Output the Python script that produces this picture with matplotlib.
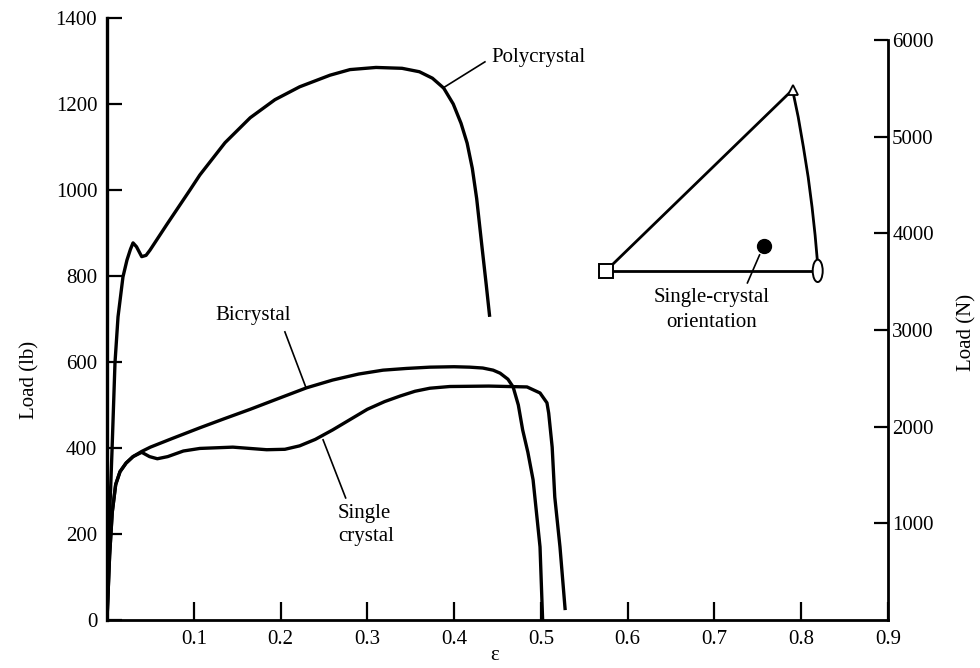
import matplotlib
matplotlib.use("Agg")
import matplotlib.pyplot as plt
from matplotlib.patches import Ellipse

plt.rcParams['font.family'] = ['Liberation Serif', 'DejaVu Serif']
FS = 15

# ---------------- data (strain, load in lb) ----------------
poly_x = [0, 0.0023, 0.0058, 0.0092, 0.0127, 0.0184, 0.023, 0.027, 0.030, 0.034,
          0.040, 0.045, 0.0495, 0.069, 0.0956, 0.107, 0.136, 0.165, 0.1935, 0.222,
          0.257, 0.280, 0.310, 0.340, 0.360, 0.375, 0.388, 0.399, 0.408, 0.415,
          0.421, 0.426, 0.432, 0.437, 0.441]
poly_lb = [0, 202, 395, 598, 705, 798, 837, 862, 877, 868,
           845, 848, 860, 920, 1000, 1035, 1110, 1168, 1210, 1240,
           1267, 1280, 1285, 1283, 1275, 1260, 1237, 1200, 1155, 1109,
           1050, 980, 870, 780, 705]

bi_x = [0, 0.003, 0.006, 0.010, 0.015, 0.022, 0.030, 0.040, 0.050, 0.075, 0.107,
        0.135, 0.165, 0.200, 0.230, 0.260, 0.290, 0.318, 0.345, 0.372, 0.400,
        0.418, 0.433, 0.445, 0.453, 0.462, 0.468, 0.474, 0.479, 0.485, 0.491,
        0.499, 0.502]
bi_lb = [0, 150, 250, 315, 345, 365, 380, 392, 402, 422, 447,
         468, 490, 517, 540, 558, 572, 581, 585, 588, 589,
         588, 586, 581, 574, 560, 542, 500, 442, 390, 326,
         170, 0]

single_x = [0, 0.003, 0.006, 0.010, 0.015, 0.022, 0.030, 0.040, 0.049, 0.058, 0.070,
            0.088, 0.107, 0.145, 0.184, 0.205, 0.222, 0.240, 0.260, 0.280, 0.300,
            0.320, 0.338, 0.355, 0.372, 0.395, 0.440, 0.484, 0.499, 0.507, 0.509,
            0.513, 0.516, 0.522, 0.528]
single_lb = [0, 150, 250, 315, 345, 365, 380, 390, 380, 375, 380,
             393, 399, 402, 396, 397, 405, 420, 442, 466, 490,
             508, 521, 532, 539, 543, 544, 542, 528, 505, 481,
             402, 286, 170, 23]

# x / y ticks
x_ticks = [0.1, 0.2, 0.3, 0.4, 0.5, 0.6, 0.7, 0.8, 0.9]
x_ticklabels = ['0.1', '0.2', '0.3', '0.4', '0.5', '0.6', '0.7', '0.8', '0.9']
lb_ticks = [0, 200, 400, 600, 800, 1000, 1200, 1400]
n_ticks = [1000, 2000, 3000, 4000, 5000, 6000]
LB_TO_N = 4.448

# inset (stereographic triangle) in data coordinates
tri_square = (0.575, 812)
tri_top = (0.790, 1233)
tri_ellipse = (0.819, 812)
tri_curve_x = [0.790, 0.7965, 0.8025, 0.808, 0.8125, 0.816, 0.8185]
tri_curve_lb = [1233, 1170, 1100, 1030, 960, 895, 838]
orient_dot = (0.757, 870)

# ---------------- figure ----------------
fig = plt.figure(figsize=(9.8, 6.68), dpi=100)
ax = fig.add_axes([107/980, 1 - 620/668, 781/980, 602/668])

lw = 2.4
for xs, ys in ((poly_x, poly_lb), (bi_x, bi_lb), (single_x, single_lb)):
    ax.plot(xs, ys, color='black', lw=lw, solid_capstyle='butt', solid_joinstyle='round')

ax.set_xlim(0, 0.9)
ax.set_ylim(0, 1400)
ax.spines['top'].set_visible(False)
ax.spines['right'].set_visible(False)
ax.spines['left'].set_linewidth(2.4)
ax.spines['bottom'].set_linewidth(2.0)

ax.set_xticks(x_ticks)
ax.set_xticklabels(x_ticklabels)
ax.set_yticks(lb_ticks)
ax.tick_params(axis='x', direction='in', length=13, width=1.6, pad=7, labelsize=FS)
ax.tick_params(axis='y', direction='in', length=11, width=1.6, pad=7, labelsize=FS)

ax.set_ylabel('Load (lb)', fontsize=FS)
ax.yaxis.set_label_coords((30 - 107) / 781, (620 - 380) / 602)
ax.yaxis.label.set_va('center')
ax.set_xlabel('ε', fontsize=FS)
ax.xaxis.set_label_coords((495 - 107) / 781, -35 / 602)
ax.xaxis.label.set_va('center')

# right axis in Newtons
ax2 = ax.twinx()
ax2.set_ylim(0, 1400 * LB_TO_N)
ax2.set_yticks(n_ticks)
ax2.spines['top'].set_visible(False)
ax2.spines['left'].set_visible(False)
ax2.spines['bottom'].set_visible(False)
ax2.spines['right'].set_bounds(0, 6000)
ax2.spines['right'].set_linewidth(2.0)
ax2.tick_params(axis='y', direction='in', length=10, width=1.6, pad=3, labelsize=FS)
ax2.set_ylabel('Load (N)', fontsize=FS)
ax2.yaxis.set_label_coords((967 - 107) / 781, (620 - 332) / 602)
ax2.yaxis.label.set_va('center')

# ---------------- annotations ----------------
ann_lw = 1.2
ax.text(0.4435, 1309, 'Polycrystal', fontsize=FS, ha='left', va='center')
ax.plot([0.4355, 0.387], [1298, 1237], color='black', lw=ann_lw)

ax.text(0.168, 709, 'Bicrystal', fontsize=FS, ha='center', va='center')
ax.plot([0.205, 0.229], [670, 542], color='black', lw=ann_lw)

ax.text(0.266, 221, 'Single\ncrystal', fontsize=FS, ha='left', va='center',
        linespacing=1.3)
ax.plot([0.249, 0.275], [419, 284], color='black', lw=ann_lw)

# inset triangle
ax.plot([tri_square[0], tri_top[0]], [tri_square[1], tri_top[1]], color='black', lw=2.0)
ax.plot([tri_square[0], tri_ellipse[0]], [tri_square[1], tri_ellipse[1]], color='black', lw=2.0)
ax.plot(tri_curve_x, tri_curve_lb, color='black', lw=2.0, solid_joinstyle='round')
ax.plot([tri_square[0]], [tri_square[1]], marker='s', ms=10, mfc='white', mec='black', mew=1.4)
ax.plot([tri_top[0]], [tri_top[1]], marker='^', ms=7, mfc='white', mec='black', mew=1.3)
ax.add_patch(Ellipse(tri_ellipse, width=0.0115, height=52, facecolor='white',
                     edgecolor='black', lw=1.4, zorder=3))
ax.plot([orient_dot[0]], [orient_dot[1]], marker='o', ms=10, color='black')
ax.plot([0.752, 0.738], [849, 784], color='black', lw=ann_lw)
ax.text(0.697, 721, 'Single-crystal\norientation', fontsize=FS, ha='center',
        va='center', linespacing=1.4)

fig.savefig('out.png', dpi=100)
